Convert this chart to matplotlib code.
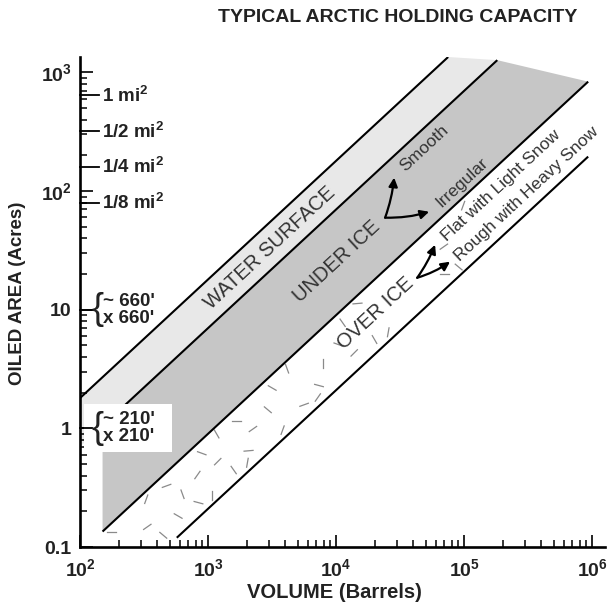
import numpy as np
import matplotlib
matplotlib.use("Agg")
import matplotlib.pyplot as plt
from matplotlib.patches import Polygon, Rectangle
from matplotlib.ticker import FixedLocator, FixedFormatter, LogLocator, NullFormatter

plt.rcParams['font.family'] = ['Liberation Sans', 'DejaVu Sans']
plt.rcParams['mathtext.fontset'] = 'custom'
plt.rcParams['mathtext.rm'] = 'Liberation Sans'
plt.rcParams['mathtext.bf'] = 'Liberation Sans:bold'

# ---------------- data ----------------
title = "TYPICAL ARCTIC HOLDING CAPACITY"
x_label = "VOLUME (Barrels)"
y_label = "OILED AREA (Acres)"
x_major_ticks = [1e2, 1e3, 1e4, 1e5, 1e6]
x_tick_labels = [r'$\mathbf{10^2}$', r'$\mathbf{10^3}$', r'$\mathbf{10^4}$',
                 r'$\mathbf{10^5}$', r'$\mathbf{10^6}$']
y_major_ticks = [0.1, 1, 10, 100, 1000]
y_tick_labels = ['0.1', '1', '10', r'$\mathbf{10^2}$', r'$\mathbf{10^3}$']
sq_mile_areas = [640, 320, 160, 80]          # acres
sq_mile_labels = [r'1 mi$^\mathbf{2}$', r'1/2 mi$^\mathbf{2}$',
                  r'1/4 mi$^\mathbf{2}$', r'1/8 mi$^\mathbf{2}$']
square_areas = [10, 1]                       # acres
square_labels = ["~ 660'\nx 660'", "~ 210'\nx 210'"]

# boundary lines: oiled area per barrel (acres / bbl)
water_upper_coef = 0.018
ice_upper_coef = 0.007
ice_lower_coef = 0.0009
over_ice_lower_coef = 0.00021
# extents (barrels) and cap areas (acres)
water_start = 100
ice_start = 150
over_ice_start = 570
band_end = 9.3e5
water_top_area = 1350
ice_top_area = 1270

band_names = ["WATER SURFACE", "UNDER ICE", "OVER ICE"]
band_label_pos = [(3050, 33.3), (10200, 25.4), (20200, 9.25)]
sub_names = ["Smooth", "Irregular", "Flat with Light Snow", "Rough with Heavy Snow"]
sub_label_pos = [(48700, 229), (96400, 118), (194500, 111), (305000, 95)]
under_arrow_from = (24150, 59.7)
under_arrow_to = [(28400, 130), (53300, 67)]
over_arrow_from = (43000, 18.6)
over_arrow_to = [(59300, 35.3), (77600, 25.4)]

# ---------------- figure ----------------
fig = plt.figure(figsize=(6.12, 6.07), dpi=100)
ax = fig.add_axes([80/612, 60/607, 525/612, (547-57)/607])
ax.set_xscale('log')
ax.set_yscale('log')
ax.set_xlim(100, 10**6.1)
ax.set_ylim(0.1, water_top_area)

light = '#e8e8e8'
dark = '#c6c6c6'

# water surface band (light)
v_w_top = water_top_area / water_upper_coef
v_i_top = ice_top_area / ice_upper_coef
water_poly = [(water_start, water_upper_coef*water_start),
              (v_w_top, water_top_area),
              (v_i_top, ice_top_area),
              (water_start, ice_upper_coef*water_start)]
ax.add_patch(Polygon(water_poly, closed=True, facecolor=light, edgecolor='none', zorder=1))

# under ice band (dark)
ice_poly = [(ice_start, ice_upper_coef*ice_start),
            (v_i_top, ice_top_area),
            (band_end, ice_lower_coef*band_end),
            (ice_start, ice_lower_coef*ice_start)]
ax.add_patch(Polygon(ice_poly, closed=True, facecolor=dark, edgecolor='none', zorder=2))

lw = 1.5
ax.plot([water_start, v_w_top], [water_upper_coef*water_start, water_top_area],
        color='black', lw=lw, zorder=4, solid_capstyle='butt')
ax.plot([ice_start, v_i_top], [ice_upper_coef*ice_start, ice_top_area],
        color='black', lw=lw, zorder=4, solid_capstyle='butt')
ax.plot([ice_start, band_end], [ice_lower_coef*ice_start, ice_lower_coef*band_end],
        color='black', lw=lw, zorder=4, solid_capstyle='butt')
ax.plot([over_ice_start, band_end], [over_ice_lower_coef*over_ice_start, over_ice_lower_coef*band_end],
        color='black', lw=lw, zorder=4, solid_capstyle='butt')

# rotation of slope-1 lines on screen
p0 = ax.transData.transform((1e3, 1.0))
p1 = ax.transData.transform((1e4, 10.0))
rot = np.degrees(np.arctan2(p1[1]-p0[1], p1[0]-p0[0]))
rr = np.radians(rot)

# texture dashes inside the over-ice band (decoration on a staggered lattice)
e_al = np.array([np.cos(rr), np.sin(rr)])
e_ac = np.array([np.sin(rr), -np.cos(rr)])
P0 = ax.transData.transform((ice_start, ice_lower_coef*ice_start))
avoid = [(ax.transData.transform(band_label_pos[2]), 45, 13),
         (ax.transData.transform(sub_label_pos[2]), 70, 11),
         (ax.transData.transform(sub_label_pos[3]), 80, 11)]
arrow_px = ax.transData.transform(over_arrow_from)
inv = ax.transData.inverted()
angles = [0, 35, -40, 70, 150, 20, 110, -15, 55, 90, 160, 45, 125, -60, 5, 80]
cnt = 0
for k in range(26):
    s = 12 + 24 * k
    thresh = 5 if k < 8 else (4 if k < 14 else 3)
    for j in range(6):
        if ((k * 5 + j * 3) % 7) >= thresh:
            continue
        c = 9 + 14 * j + (4 if k % 2 else 0) + ((k * 3 + j) % 3 - 1) * 3
        pp = P0 + (s + ((j * 7) % 5 - 2) * 3) * e_al + c * e_ac
        V, A = inv.transform(pp)
        if V < 165 or V > 1.5e5:
            continue
        if A > ice_lower_coef * V * 0.88 or A < 0.1 * 1.15:
            continue
        if V > over_ice_start * 0.9 and A < over_ice_lower_coef * V * 1.18:
            continue
        skip = False
        for cpx, half_al, half_ac in avoid:
            d = pp - cpx
            if abs(d @ e_al) < half_al and abs(d @ e_ac) < half_ac:
                skip = True
        if skip or np.hypot(*(pp - arrow_px)) < 24:
            continue
        th = np.radians(angles[cnt % len(angles)])
        cnt += 1
        h = 4.5 * np.array([np.cos(th), np.sin(th)])
        a0 = inv.transform(pp - h)
        a1 = inv.transform(pp + h)
        ax.plot([a0[0], a1[0]], [a0[1], a1[1]], color='#8a8a8a', lw=0.9, zorder=3)

for name, (vx, vy) in zip(band_names, band_label_pos):
    ax.text(vx, vy, name, rotation=rot, rotation_mode='anchor', ha='center', va='center',
            fontsize=14.5, color='#333333', zorder=6)
for name, (vx, vy) in zip(sub_names, sub_label_pos):
    ax.text(vx, vy, name, rotation=rot, rotation_mode='anchor', ha='center', va='center',
            fontsize=12.5, color='#333333', zorder=6)

for start, tips in [(under_arrow_from, under_arrow_to), (over_arrow_from, over_arrow_to)]:
    for k, tip in enumerate(tips):
        ax.annotate('', xy=tip, xytext=start,
                    arrowprops=dict(arrowstyle='-|>', color='black', lw=1.6,
                                    mutation_scale=13, shrinkA=0, shrinkB=0,
                                    connectionstyle='arc3,rad=%s' % (0.06 if k == 0 else 0.08)),
                    zorder=6)

# square-mile markers on the y axis
ytr = ax.get_yaxis_transform()
for a, lab in zip(sq_mile_areas, sq_mile_labels):
    ax.plot([0, 0.036], [a, a], color='black', lw=1.3, transform=ytr, clip_on=False, zorder=6)
    ax.text(0.042, a, lab, transform=ytr, ha='left', va='center', fontsize=13.5,
            fontweight='bold', color='#222222', zorder=7)

# square-side markers
ax.add_patch(Rectangle((0.008, 0.63), 0.168, 1.62-0.63, transform=ytr,
                       facecolor='white', edgecolor='none', zorder=5))
for a, lab in zip(square_areas, square_labels):
    ax.plot([0, 0.022], [a, a], color='black', lw=1.3, transform=ytr, clip_on=False, zorder=6)
    ax.text(0.021, a, '{', transform=ytr, ha='left', va='center', fontsize=26,
            color='#222222', zorder=7)
    ax.text(0.044, a, lab, transform=ytr, ha='left', va='center', fontsize=13.5,
            fontweight='bold', color='#222222', linespacing=1.0, zorder=7)

# axes styling
for s in ['top', 'right']:
    ax.spines[s].set_visible(False)
for s in ['left', 'bottom']:
    ax.spines[s].set_linewidth(1.9)
    ax.spines[s].set_zorder(8)
ax.xaxis.set_major_locator(FixedLocator(x_major_ticks))
ax.xaxis.set_major_formatter(FixedFormatter(x_tick_labels))
ax.xaxis.set_minor_locator(LogLocator(base=10, subs=np.arange(2, 10)))
ax.xaxis.set_minor_formatter(NullFormatter())
ax.yaxis.set_major_locator(FixedLocator(y_major_ticks))
ax.yaxis.set_major_formatter(FixedFormatter(y_tick_labels))
ax.yaxis.set_minor_locator(LogLocator(base=10, subs=np.arange(2, 10)))
ax.yaxis.set_minor_formatter(NullFormatter())
ax.tick_params(which='major', direction='in', length=9, width=1.2, colors='black',
               labelsize=14, labelcolor='#222222')
ax.tick_params(which='minor', direction='in', length=5, width=1.1, colors='black')
ax.tick_params(axis='x', which='major', pad=8)
ax.tick_params(axis='y', which='major', pad=6)
for lbl in ax.get_xticklabels() + ax.get_yticklabels():
    lbl.set_fontweight('bold')

fig.text(398/612, 1-18/607, title, ha='center', va='center', fontsize=14,
         fontweight='bold', color='#222222')
fig.text(334/612, 1-592/607, x_label, ha='center', va='center', fontsize=14.5,
         fontweight='bold', color='#222222')
fig.text(18/612, 1-293/607, y_label, ha='center', va='center', rotation=90,
         fontsize=13.5, fontweight='bold', color='#222222')

fig.savefig('out.png', dpi=100)
